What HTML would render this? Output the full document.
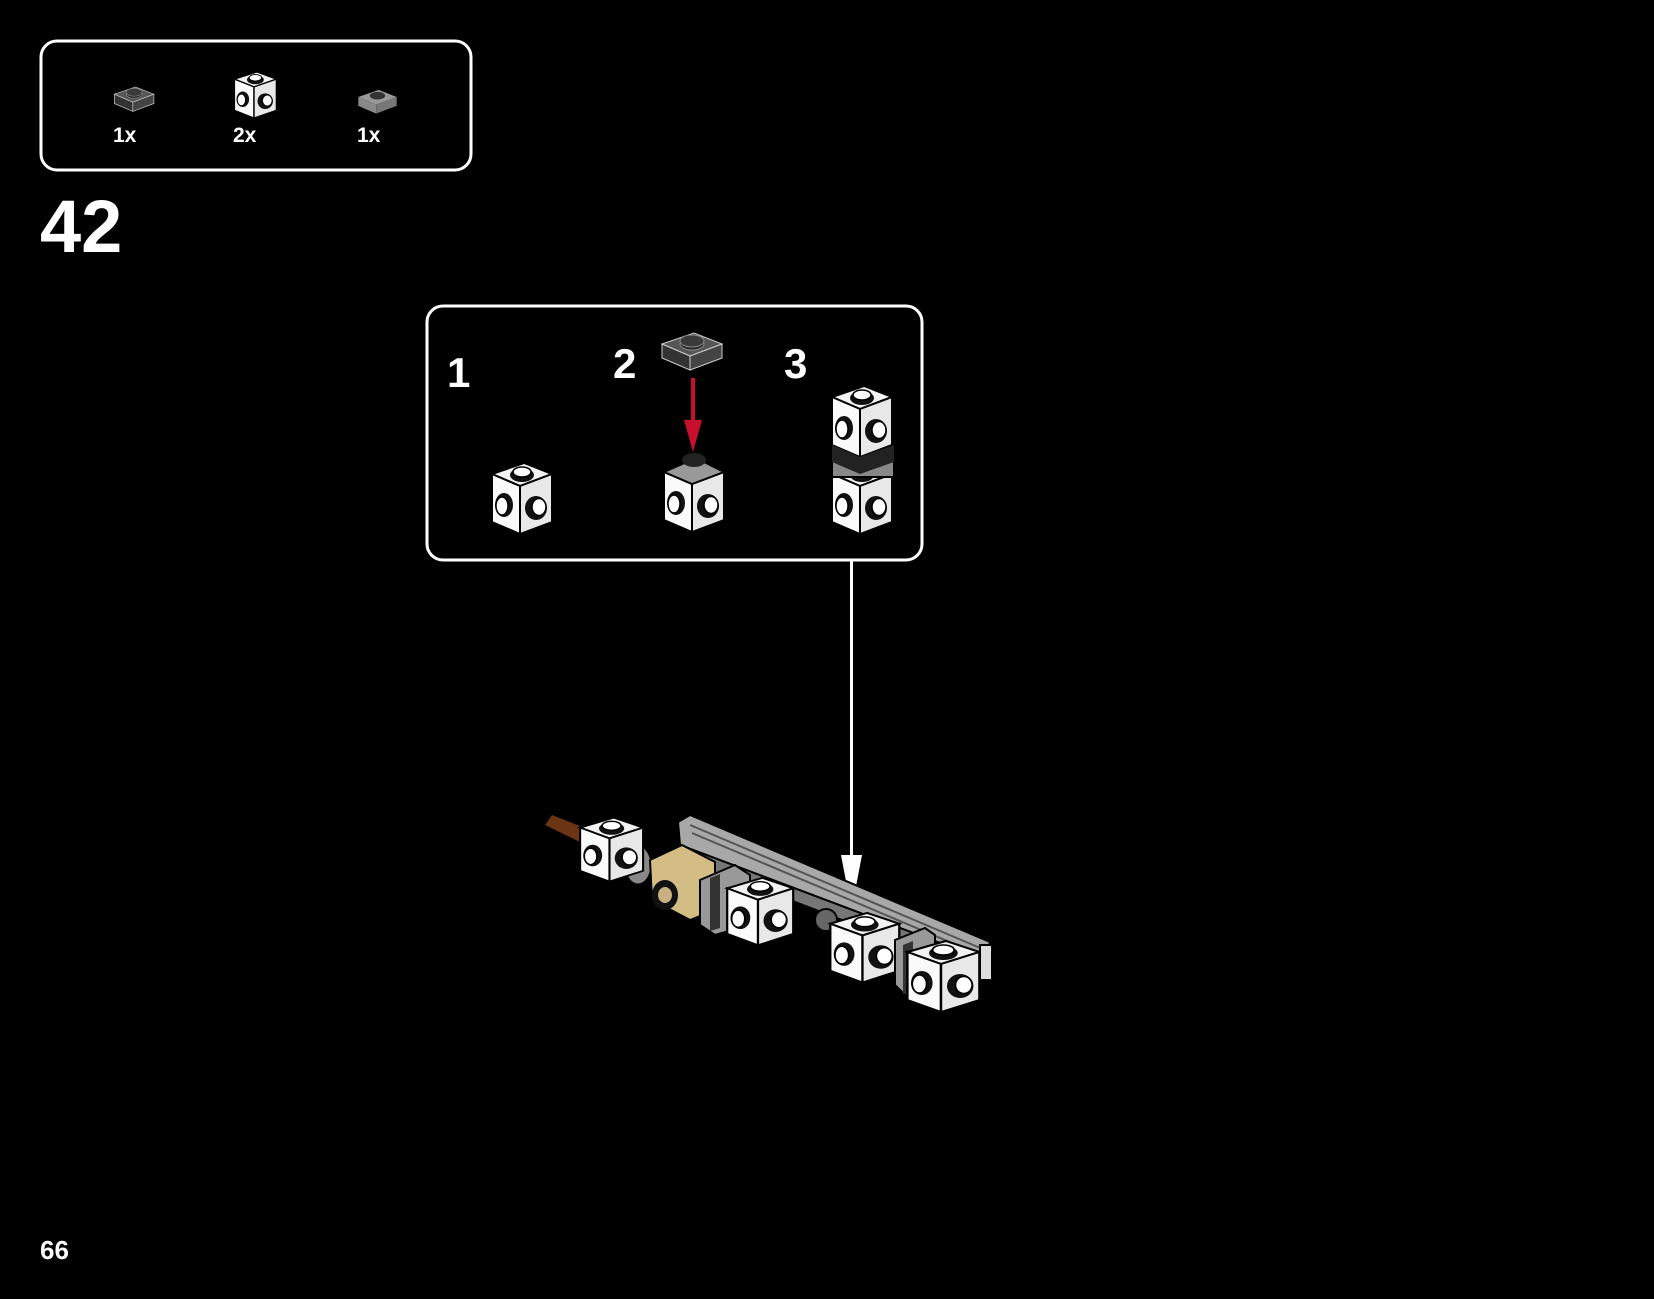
<!DOCTYPE html>
<html><head><meta charset="utf-8"><style>
html,body{margin:0;padding:0;background:#000;}
body{width:1654px;height:1299px;position:relative;overflow:hidden;font-family:"Liberation Sans",sans-serif;color:#fff;font-weight:bold;}
.t{position:absolute;line-height:1;}
</style></head><body>
<svg width="1654" height="1299" style="position:absolute;left:0;top:0">
<defs>
<g id="cube">
  <polygon points="2,14 34,3 62,14 30,26" fill="#f2f2f2" stroke="#000" stroke-width="2"/>
  <polygon points="2,14 30,26 30,74 2,62" fill="#fafafa" stroke="#000" stroke-width="2"/>
  <polygon points="30,26 62,14 62,62 30,74" fill="#e8e8e8" stroke="#000" stroke-width="2"/>
  <ellipse cx="32" cy="15" rx="12" ry="7" fill="#111"/>
  <ellipse cx="32" cy="12" rx="9" ry="5" fill="#fff" stroke="#000" stroke-width="1.5"/>
  <ellipse cx="14" cy="45" rx="9" ry="12" fill="#111"/>
  <ellipse cx="12" cy="46" rx="6" ry="9" fill="#fff" stroke="#000" stroke-width="1.5"/>
  <ellipse cx="46" cy="48" rx="11" ry="12" fill="#111"/>
  <ellipse cx="49" cy="47" rx="7" ry="8.5" fill="#fff" stroke="#000" stroke-width="1.5"/>
</g>
<g id="plate">
  <polygon points="2,14 34,3 62,14 30,26" fill="#555" stroke="#ccc" stroke-width="1"/>
  <polygon points="2,14 30,26 30,40 2,28" fill="#333" stroke="#ccc" stroke-width="1"/>
  <polygon points="30,26 62,14 62,28 30,40" fill="#444" stroke="#ccc" stroke-width="1"/>
  <ellipse cx="32" cy="14" rx="12" ry="6" fill="#222" stroke="#888" stroke-width="1"/>
  <ellipse cx="32" cy="11" rx="12" ry="6" fill="#3a3a3a" stroke="#888" stroke-width="1"/>
</g>
</defs>
<rect x="41" y="41" width="430" height="129" rx="16" fill="none" stroke="#fff" stroke-width="3"/>
<rect x="427" y="306" width="495" height="254" rx="16" fill="none" stroke="#fff" stroke-width="3"/>
<!-- parts list -->
<use href="#plate" transform="translate(113,85) scale(0.66)"/>
<use href="#cube" transform="translate(233,70) scale(0.7,0.65)"/>
<g transform="translate(357,88) scale(0.64)">
  <polygon points="2,14 34,3 62,14 30,26" fill="#999"/>
  <polygon points="2,14 30,26 30,40 2,28" fill="#888"/>
  <polygon points="30,26 62,14 62,28 30,40" fill="#777"/>
  <ellipse cx="32" cy="12" rx="12" ry="6" fill="#333"/>
</g>
<!-- callout -->
<use href="#cube" transform="translate(490,460)"/>
<use href="#plate" transform="translate(660,330)"/>
<line x1="693" y1="378" x2="693" y2="430" stroke="#c8102e" stroke-width="4"/>
<polygon points="684,420 702,420 693,452" fill="#c8102e"/>
<use href="#cube" transform="translate(662,458)"/>
<polygon points="664,472 696,458 724,472 692,484" fill="#999" stroke="#000" stroke-width="2"/>
<ellipse cx="694" cy="460" rx="12" ry="7" fill="#222"/>
<use href="#cube" transform="translate(830,460)"/>
<rect x="832" y="455" width="62" height="22" fill="#888" stroke="#000" stroke-width="2"/>
<use href="#cube" transform="translate(830,383)"/>
<polygon points="832,445 860,457 894,445 894,462 860,474 832,462" fill="#222"/>
<!-- connector -->
<line x1="851.5" y1="560" x2="851.5" y2="870" stroke="#fff" stroke-width="3"/>
<polygon points="841,855 862,855 851.5,910" fill="#fff"/>
<!-- assembly -->
<polygon points="545,825 552,815 590,830 582,843" fill="#6b3414"/>
<polygon points="678,822 690,815 990,942 985,960 680,845" fill="#a8a8a8" stroke="#000" stroke-width="2"/>
<line x1="690" y1="825" x2="985" y2="950" stroke="#555" stroke-width="2"/>
<line x1="692" y1="833" x2="985" y2="957" stroke="#555" stroke-width="2"/>
<polygon points="680,845 985,960 985,975 790,900 680,860" fill="#777" stroke="#000" stroke-width="2"/>
<ellipse cx="638" cy="865" rx="14" ry="20" fill="#888" stroke="#000" stroke-width="3"/>
<polygon points="650,860 682,845 715,862 715,910 690,920 652,900" fill="#d4bd85" stroke="#000" stroke-width="2"/>
<ellipse cx="665" cy="895" rx="13" ry="15" fill="#111"/><ellipse cx="665" cy="895" rx="7" ry="8" fill="#c9b080"/>
<polygon points="700,880 735,865 750,875 750,925 715,935 700,925" fill="#999" stroke="#000" stroke-width="2"/>
<polygon points="710,878 720,874 720,928 710,931" fill="#333"/>
<use href="#cube" transform="translate(578,815) scale(1.05,0.9)"/>
<use href="#cube" transform="translate(725,875) scale(1.1,0.95)"/>
<ellipse cx="826" cy="920" rx="11" ry="11" fill="#666" stroke="#000" stroke-width="2"/>
<use href="#cube" transform="translate(828,910) scale(1.15,0.98)"/>
<polygon points="895,940 925,928 935,935 935,985 905,995 895,985" fill="#999" stroke="#000" stroke-width="2"/>
<polygon points="903,945 913,941 913,991 903,994" fill="#333"/>
<use href="#cube" transform="translate(905,938) scale(1.2,1.0)"/>
<rect x="980" y="945" width="12" height="35" fill="#ddd" stroke="#000" stroke-width="2"/>
</svg>
<div class="t" style="left:113px;top:125px;font-size:21px">1x</div>
<div class="t" style="left:233px;top:125px;font-size:21px">2x</div>
<div class="t" style="left:357px;top:125px;font-size:21px">1x</div>
<div class="t" style="left:40px;top:190px;font-size:74px">42</div>
<div class="t" style="left:447px;top:352px;font-size:42px">1</div>
<div class="t" style="left:613px;top:343px;font-size:42px">2</div>
<div class="t" style="left:784px;top:343px;font-size:42px">3</div>
<div class="t" style="left:40px;top:1237px;font-size:26px">66</div>
</body></html>
